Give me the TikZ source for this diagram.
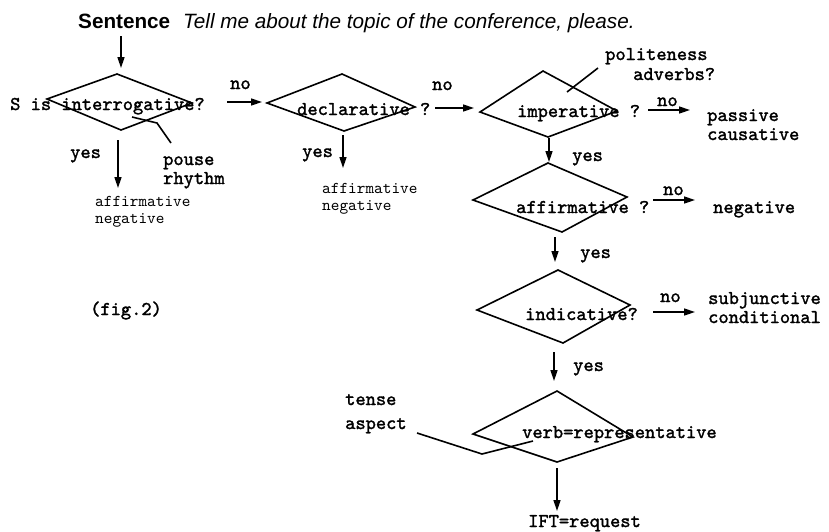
\documentclass[tikz,border=0pt]{standalone}
\usepackage{fontspec}
\setmainfont{Liberation Sans}
\newfontfamily\courb[FakeBold=1.6]{lmmono10-regular.otf}
\newfontfamily\cour{lmmono10-regular.otf}
\usetikzlibrary{arrows.meta}
\begin{document}
\begin{tikzpicture}[x=1pt,y=-1pt,
  lbl/.style={font=\fontsize{19.5}{22}\selectfont\courb, inner sep=0pt, anchor=base west},
  sm/.style={font=\fontsize{16.5}{18}\selectfont\cour, inner sep=0pt, anchor=base west},
  ttl/.style={inner sep=0pt, anchor=base west},
  edge/.style={line width=1.6pt, line join=miter},
  arr/.style={line width=1.6pt, -{Triangle[length=11pt,width=7pt]}}]
\useasboundingbox (0,0) rectangle (829,531);

% title
\node[ttl, font=\fontsize{20.7}{24}\selectfont\bfseries] (sent) at (78,28) {Sentence};
\node[ttl, font=\fontsize{20.7}{24}\selectfont\itshape] (quote) at (183,28) {Tell me about the topic of the conference, please.};

% diamond coordinates
\coordinate (T1) at (117,74);  \coordinate (R1) at (192,103); \coordinate (B1) at (121,130); \coordinate (L1) at (47,99);
\coordinate (T2) at (342,74);  \coordinate (R2) at (415,107); \coordinate (B2) at (344,131); \coordinate (L2) at (267,103);
\coordinate (T3) at (543,71);  \coordinate (R3) at (617,111); \coordinate (B3) at (548,137); \coordinate (L3) at (480,112);
\coordinate (T4) at (548,163); \coordinate (R4) at (627,197); \coordinate (B4) at (562,232); \coordinate (L4) at (473,200);
\coordinate (T5) at (558,270); \coordinate (R5) at (630,305); \coordinate (B5) at (563,343); \coordinate (L5) at (477,310);
\coordinate (T6) at (557,391); \coordinate (R6) at (633,437); \coordinate (B6) at (557,462); \coordinate (L6) at (473,434);

\draw[edge] (T1) -- (R1) -- (B1) -- (L1) -- cycle;
\draw[edge] (T2) -- (R2) -- (B2) -- (L2) -- cycle;
\draw[edge] (T3) -- (R3) -- (B3) -- (L3) -- cycle;
\draw[edge] (T4) -- (R4) -- (B4) -- (L4) -- cycle;
\draw[edge] (T5) -- (R5) -- (B5) -- (L5) -- cycle;
\draw[edge] (T6) -- (R6) -- (B6) -- (L6) -- cycle;

% diamond texts
\node[lbl] (q1) at (10,110) {S is interrogative?};
\node[lbl] (q2) at (297,115) {declarative ?};
\node[lbl] (q3) at (517,117) {imperative ?};
\node[lbl] (q4) at (516,213) {affirmative ?};
\node[lbl] (q5) at (525,320) {indicative?};
\node[lbl] (q6) at (522,438) {verb=representative};

% start arrow
\coordinate (s0) at (121,36); \coordinate (s1) at (121,68);
\draw[arr] (s0) -- (s1);

% interrogative
\coordinate (a1s) at (118,140); \coordinate (a1e) at (118,188);
\draw[arr] (a1s) -- (a1e);
\node[lbl] (yes1) at (70,158) {yes};
\node[sm] (res1a) at (95,206) {affirmative};
\node[sm] (res1b) at (95,223) {negative};
\coordinate (n1s) at (227,102); \coordinate (n1e) at (262,102);
\draw[arr] (n1s) -- (n1e);
\node[lbl] (no1) at (230,89) {no};
\coordinate (p1) at (132,117); \coordinate (p2) at (157,123); \coordinate (p3) at (171,143);
\draw[edge] (p1) -- (p2) -- (p3);
\node[lbl] (pouse) at (163,165) {pouse};
\node[lbl] (rhythm) at (163,184) {rhythm};

% declarative
\coordinate (a2s) at (343,135); \coordinate (a2e) at (343,168);
\draw[arr] (a2s) -- (a2e);
\node[lbl] (yes2) at (302,157) {yes};
\node[sm] (res2a) at (322,193) {affirmative};
\node[sm] (res2b) at (322,210) {negative};
\coordinate (n2s) at (435,108); \coordinate (n2e) at (474,108);
\draw[arr] (n2s) -- (n2e);
\node[lbl] (no2) at (432,90) {no};

% imperative
\coordinate (pl1) at (567,92); \coordinate (pl2) at (598,68);
\draw[edge] (pl1) -- (pl2);
\node[lbl] (polit) at (605,60) {politeness};
\node[lbl] (adverbs) at (633,80) {adverbs?};
\coordinate (n3s) at (648,110); \coordinate (n3e) at (690,110);
\draw[arr] (n3s) -- (n3e);
\node[lbl] (no3) at (657,106) {no};
\node[lbl] (passive) at (707,121) {passive};
\node[lbl] (causative) at (707,140) {causative};
\coordinate (a3s) at (549,138); \coordinate (a3e) at (549,162);
\draw[arr] (a3s) -- (a3e);
\node[lbl] (yes3) at (572,161) {yes};

% affirmative
\coordinate (n4s) at (653,200); \coordinate (n4e) at (695,200);
\draw[arr] (n4s) -- (n4e);
\node[lbl] (no4) at (663,195) {no};
\node[lbl] (neg4) at (713,213) {negative};
\coordinate (a4s) at (555,237); \coordinate (a4e) at (555,262);
\draw[arr] (a4s) -- (a4e);
\node[lbl] (yes4) at (580,258) {yes};

% indicative
\coordinate (n5s) at (653,312); \coordinate (n5e) at (695,312);
\draw[arr] (n5s) -- (n5e);
\node[lbl] (no5) at (660,302) {no};
\node[lbl] (subj) at (708,304) {subjunctive};
\node[lbl] (cond) at (708,323) {conditional};
\coordinate (a5s) at (554,352); \coordinate (a5e) at (554,381);
\draw[arr] (a5s) -- (a5e);
\node[lbl] (yes5) at (573,371) {yes};

% verb
\coordinate (t1) at (417,433); \coordinate (t2) at (482,454); \coordinate (t3) at (533,441);
\draw[edge] (t1) -- (t2) -- (t3);
\node[lbl] (tense) at (345,405) {tense};
\node[lbl] (aspect) at (345,429) {aspect};
\coordinate (a6s) at (557,468); \coordinate (a6e) at (557,511);
\draw[arr] (a6s) -- (a6e);
\node[lbl] (ift) at (528,527) {IFT=request};

\node[lbl] (fig) at (90,315) {(fig.2)};
\end{tikzpicture}
\end{document}
